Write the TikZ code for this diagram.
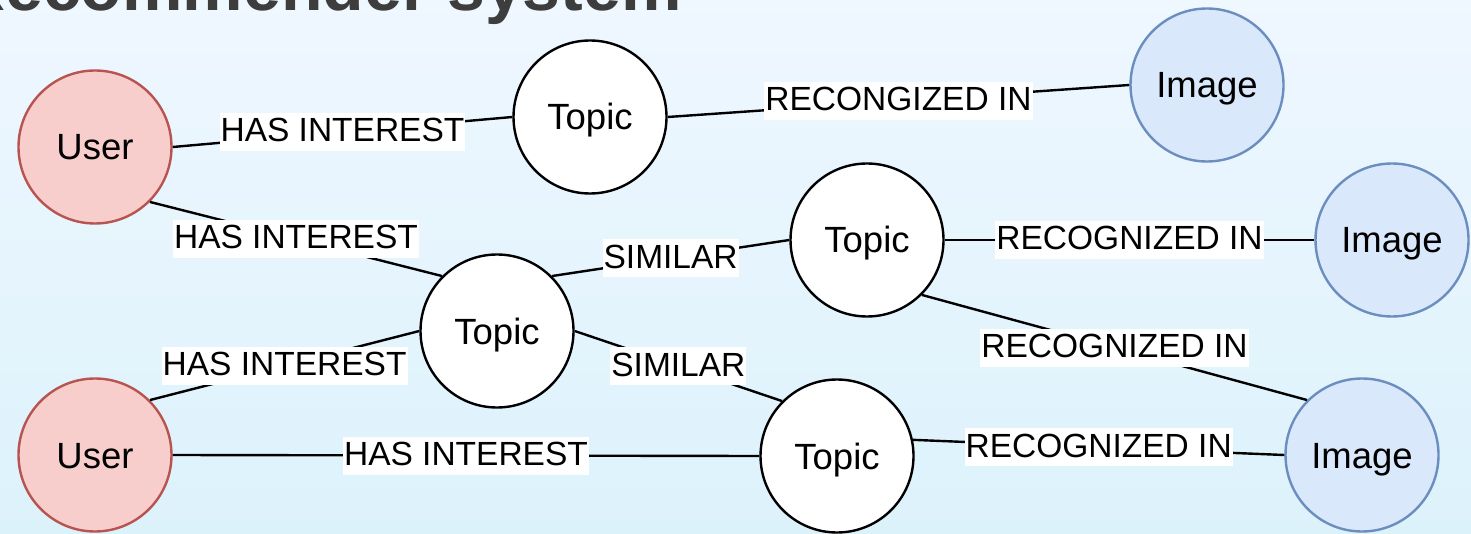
\documentclass[tikz,border=0pt]{standalone}
\usepackage{fontspec}
\setmainfont{Liberation Sans}
\begin{document}
\begin{tikzpicture}[x=1pt,y=-1pt,
  every node/.style={font=\fontsize{36.5}{42}\selectfont},
  ent/.style={circle,draw,line width=2.4pt,inner sep=0pt,minimum size=153pt,
    text height=26pt,text depth=0pt},
  usernode/.style={ent,fill=userfill,draw=userline},
  topicnode/.style={ent,fill=white,draw=black},
  imagenode/.style={ent,fill=imagefill,draw=imageline},
  rel/.style={draw=black,line width=2.4pt},
  rellabel/.style={fill=white,inner xsep=1pt,inner ysep=0pt,
    font=\fontsize{33.5}{40}\selectfont,text height=29pt,text depth=9pt}]
\definecolor{userfill}{HTML}{F8CECC}
\definecolor{userline}{HTML}{B85450}
\definecolor{imagefill}{HTML}{DAE8FC}
\definecolor{imageline}{HTML}{6C8EBF}
\definecolor{bgtop}{HTML}{EFF7FF}
\definecolor{bgbottom}{HTML}{DCF2FB}
\definecolor{titlegray}{HTML}{3D3D3D}

% background
\useasboundingbox (0,0) rectangle (1471,534);
\shade[top color=bgtop,bottom color=bgbottom] (0,0) rectangle (1471,534);

% title, cut by the top edge
\begin{scope}
  \clip (0,0) rectangle (1471,534);
  \node[anchor=base east,inner sep=0pt,text=titlegray,
        font=\fontsize{68}{80}\selectfont\bfseries] (title) at (682,11) {Recommender system};
\end{scope}

% entities
\node[usernode]  (u1) at (95,147)   {User};
\node[usernode]  (u2) at (95,455)   {User};
\node[topicnode] (t1) at (590,117)  {Topic};
\node[topicnode] (t2) at (867,240)  {Topic};
\node[topicnode] (t3) at (497,331)  {Topic};
\node[topicnode] (t4) at (837,456)  {Topic};
\node[imagenode] (i1) at (1207,85)  {Image};
\node[imagenode] (i2) at (1392,240) {Image};
\node[imagenode] (i3) at (1362,455) {Image};

% relations
\path[rel] (u1.east) -- node[rellabel] {HAS INTEREST} (t1.west);
\path[rel] (t1.east) -- node[rellabel] {RECONGIZED IN} (i1.west);
\path[rel] (u1.south east) -- node[rellabel] {HAS INTEREST} (t3.north west);
\path[rel] (u2.north east) -- node[rellabel] {HAS INTEREST} (t3.west);
\path[rel] (t3.north east) -- node[rellabel] {SIMILAR} (t2.west);
\path[rel] (t3.east) -- node[rellabel] {SIMILAR} (t4.north west);
\path[rel] (t2.east) -- node[rellabel] {RECOGNIZED IN} (i2.west);
\path[rel] (t2.south east) -- node[rellabel] {RECOGNIZED IN} (i3.north west);
\path[rel] (u2.east) -- node[rellabel] {HAS INTEREST} (t4.west);
\path[rel] (t4.12) -- node[rellabel] {RECOGNIZED IN} (i3.west);
\end{tikzpicture}
\end{document}
